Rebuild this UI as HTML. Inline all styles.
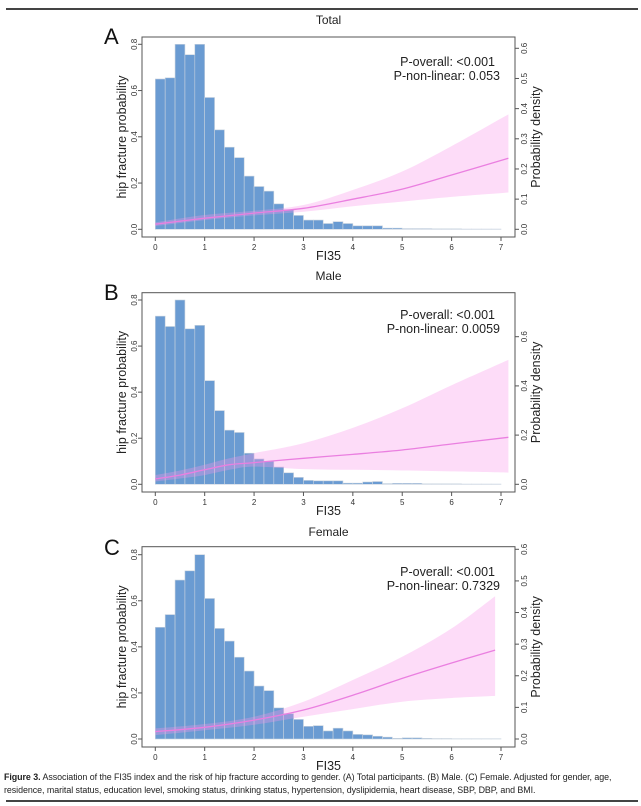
<!DOCTYPE html>
<html><head><meta charset="utf-8">
<style>
html,body{margin:0;padding:0;background:#fff;}
body{width:641px;height:806px;position:relative;overflow:hidden;font-family:"Liberation Sans",sans-serif;}
.rule{position:absolute;left:6px;width:632px;height:2px;background:#444;}
.caption{position:absolute;left:4px;top:771px;width:637px;font-size:8.9px;line-height:13px;color:#222;letter-spacing:-0.05px;}
svg{position:absolute;left:0;top:0;}
</style></head>
<body>
<div class="rule" style="top:8px"></div>
<svg id="chart" width="641" height="806"></svg>
<div class="caption"><b>Figure 3.</b> Association of the FI35 index and the risk of hip fracture according to gender. (A) Total participants. (B) Male. (C) Female. Adjusted for gender, age, residence, marital status, education level, smoking status, drinking status, hypertension, dyslipidemia, heart disease, SBP, DBP, and BMI.</div>
<div class="rule" style="top:800px;height:1.5px"></div>
<script>
// histogram bar heights (left-axis units), bins of width 0.2 starting at 0
const barsA = [0.65,0.655,0.80,0.755,0.80,0.57,0.43,0.355,0.31,0.23,0.185,0.165,0.11,0.085,0.06,0.04,0.04,0.025,0.033,0.025,0.015,0.015,0.015,0.005,0.005,0.003,0.003,0.003,0.002,0.002,0.002,0.001,0.001,0.001,0.001];
const barsB = [0.73,0.685,0.80,0.675,0.69,0.45,0.32,0.235,0.225,0.135,0.11,0.10,0.075,0.05,0.03,0.017,0.015,0.015,0.015,0.005,0.005,0.01,0.012,0.003,0.004,0.004,0.004,0.002,0.002,0.002,0.002,0.001,0.001,0.001,0.001];
const barsC = [0.485,0.54,0.69,0.73,0.80,0.61,0.48,0.425,0.355,0.295,0.23,0.21,0.135,0.11,0.085,0.055,0.058,0.035,0.047,0.035,0.02,0.018,0.012,0.008,0.003,0.005,0.005,0.003,0.002,0.002,0.001,0.001,0.001,0.001,0.001];
// spline curve: x positions, fit, upper and lower CI
const curveXA = [0,1,2,3,4,5,6,7.15];
const fitA = [0.022,0.048,0.07,0.091,0.13,0.174,0.235,0.307];
const upA = [0.03,0.062,0.08,0.105,0.17,0.25,0.36,0.497];
const loA = [0.014,0.04,0.06,0.076,0.10,0.12,0.14,0.159];
const curveXB = [0,0.5,1,1.5,2,3,4,5,6,7.15];
const fitB = [0.023,0.04,0.063,0.085,0.094,0.113,0.13,0.149,0.175,0.204];
const upB = [0.04,0.06,0.085,0.113,0.135,0.178,0.245,0.33,0.43,0.54];
const loB = [0.012,0.025,0.04,0.063,0.077,0.066,0.063,0.06,0.056,0.051];
const curveXC = [0,1,2,3,4,5,6,6.88];
const fitC = [0.032,0.051,0.082,0.126,0.19,0.263,0.33,0.386];
const upC = [0.046,0.065,0.097,0.162,0.256,0.357,0.48,0.62];
const loC = [0.017,0.038,0.062,0.097,0.13,0.162,0.178,0.187];
const xTicks = [0,1,2,3,4,5,6,7];
const leftTicks = [0,0.2,0.4,0.6,0.8];
const rightTicksA = [0,0.1,0.2,0.3,0.4,0.5,0.6];
const rightTicksB = [0,0.2,0.4,0.6];
const rightTicksC = [0,0.1,0.2,0.3,0.4,0.5,0.6];
const titles = ["Total","Male","Female"];
const letters = ["A","B","C"];
const pOverall = ["P-overall: <0.001","P-overall: <0.001","P-overall: <0.001"];
const pNonlin = ["P-non-linear: 0.053","P-non-linear: 0.0059","P-non-linear: 0.7329"];

const svg = document.getElementById('chart');
const NS = 'http://www.w3.org/2000/svg';
function mk(tag, attrs, parent){const e=document.createElementNS(NS,tag);for(const k in attrs)e.setAttribute(k,attrs[k]);(parent||svg).appendChild(e);return e;}
// smooth path through points (Catmull-Rom -> Bezier)
function smooth(pts, start){
  let d = (start?'M':'L')+pts[0][0].toFixed(1)+','+pts[0][1].toFixed(1);
  for(let i=0;i<pts.length-1;i++){
    const p0=pts[Math.max(i-1,0)],p1=pts[i],p2=pts[i+1],p3=pts[Math.min(i+2,pts.length-1)];
    const c1=[p1[0]+(p2[0]-p0[0])/6,p1[1]+(p2[1]-p0[1])/6];
    const c2=[p2[0]-(p3[0]-p1[0])/6,p2[1]-(p3[1]-p1[1])/6];
    d+='C'+c1.map(v=>v.toFixed(1)).join(',')+' '+c2.map(v=>v.toFixed(1)).join(',')+' '+p2[0].toFixed(1)+','+p2[1].toFixed(1);
  }
  return d;
}

const panels = [
 {bars:barsA,cx:curveXA,fit:fitA,up:upA,lo:loA,rt:rightTicksA,top:37,bottom:237,y0:229.3,y08:44.3,r06:48.3,titleY:24,letterY:44,pY:62},
 {bars:barsB,cx:curveXB,fit:fitB,up:upB,lo:loB,rt:rightTicksB,top:292.7,bottom:492,y0:484.3,y08:300,r06:336.7,titleY:280,letterY:300,pY:315},
 {bars:barsC,cx:curveXC,fit:fitC,up:upC,lo:loC,rt:rightTicksC,top:546.7,bottom:747,y0:739,y08:554.7,r06:549.3,titleY:536,letterY:555,pY:572}
];
const L=142, R=515, X0=155.3, X7=501;
const xs = v => X0 + (X7-X0)*v/7;

panels.forEach((p,i)=>{
  const g = mk('g',{});
  
  
  const ys = v => p.y0 - (p.y0-p.y08)*v/0.8;
  const yr = v => p.y0 - (p.y0-p.r06)*v/0.6;
  p.bars.forEach((h,j)=>{
    const r = mk('rect',{x:xs(j*0.2),y:ys(h),width:xs(0.2)-xs(0),height:p.y0-ys(h),fill:'#6a9bd2',stroke:'#c9d3de','stroke-width':0.6},g);
    
    
  });
  const upPts = p.cx.map((x,j)=>[xs(x),ys(p.up[j])]);
  const loPts = p.cx.map((x,j)=>[xs(x),ys(p.lo[j])]).reverse();
  const band = mk('path',{d:smooth(upPts,true)+smooth(loPts,false)+'Z',fill:'rgba(250,150,235,0.33)',stroke:'none'},g);
  
  
  const fitPts = p.cx.map((x,j)=>[xs(x),ys(p.fit[j])]);
  const line = mk('path',{d:smooth(fitPts,true),fill:'none',stroke:'#ea7fe0','stroke-width':1.3},g);
  
  
  const box = mk('rect',{x:L,y:p.top,width:R-L,height:p.bottom-p.top,fill:'none',stroke:'#555','stroke-width':1},g);
  
  
  xTicks.forEach(t=>{
    mk('line',{x1:xs(t),x2:xs(t),y1:p.bottom,y2:p.bottom+4,stroke:'#555'},g);
    const tx = mk('text',{x:xs(t),y:p.bottom+13,'font-size':8,'text-anchor':'middle',fill:'#333'},g);
    tx.textContent=t;
    
    
  });
  const xt = mk('text',{x:(L+R)/2,y:p.bottom+23,'font-size':12.5,'text-anchor':'middle',fill:'#222'},g);
  xt.textContent='FI35';
  
  
  leftTicks.forEach(t=>{
    mk('line',{x1:L,x2:L-4,y1:ys(t),y2:ys(t),stroke:'#555'},g);
    const tx = mk('text',{x:0,y:0,'font-size':8,'text-anchor':'middle',fill:'#333',transform:`translate(${L-5},${ys(t)}) rotate(-90)`},g);
    tx.textContent=t.toFixed(1);
    
    
  });
  p.rt.forEach(t=>{
    mk('line',{x1:R,x2:R+4,y1:yr(t),y2:yr(t),stroke:'#555'},g);
    const tx = mk('text',{x:0,y:0,'font-size':8,'text-anchor':'middle',fill:'#333',transform:`translate(${R+12},${yr(t)}) rotate(-90)`},g);
    tx.textContent=t.toFixed(1);
    
    
  });
  const mid=(p.top+p.bottom)/2;
  const lt = mk('text',{x:0,y:0,'font-size':12.5,'text-anchor':'middle',fill:'#222',transform:`translate(126,${mid}) rotate(-90)`},g);
  lt.textContent='hip fracture probability';
  
  
  const rt = mk('text',{x:0,y:0,'font-size':12.5,'text-anchor':'middle',fill:'#222',transform:`translate(540,${mid}) rotate(-90)`},g);
  rt.textContent='Probability density';
  
  
  const ti = mk('text',{x:(L+R)/2,y:p.titleY,'font-size':12,'text-anchor':'middle',fill:'#222'},g);
  ti.textContent=titles[i];
  
  
  const le = mk('text',{x:104,y:p.letterY,'font-size':22,fill:'#111'},g);
  le.textContent=letters[i];
  
  
  const p1 = mk('text',{x:495,y:p.pY+4,'font-size':12.5,'text-anchor':'end',fill:'#222'},g);
  p1.textContent=pOverall[i];
  
  
  const p2 = mk('text',{x:500,y:p.pY+18,'font-size':12.5,'text-anchor':'end',fill:'#222'},g);
  p2.textContent=pNonlin[i];
  
  
});
</script>
</body></html>
